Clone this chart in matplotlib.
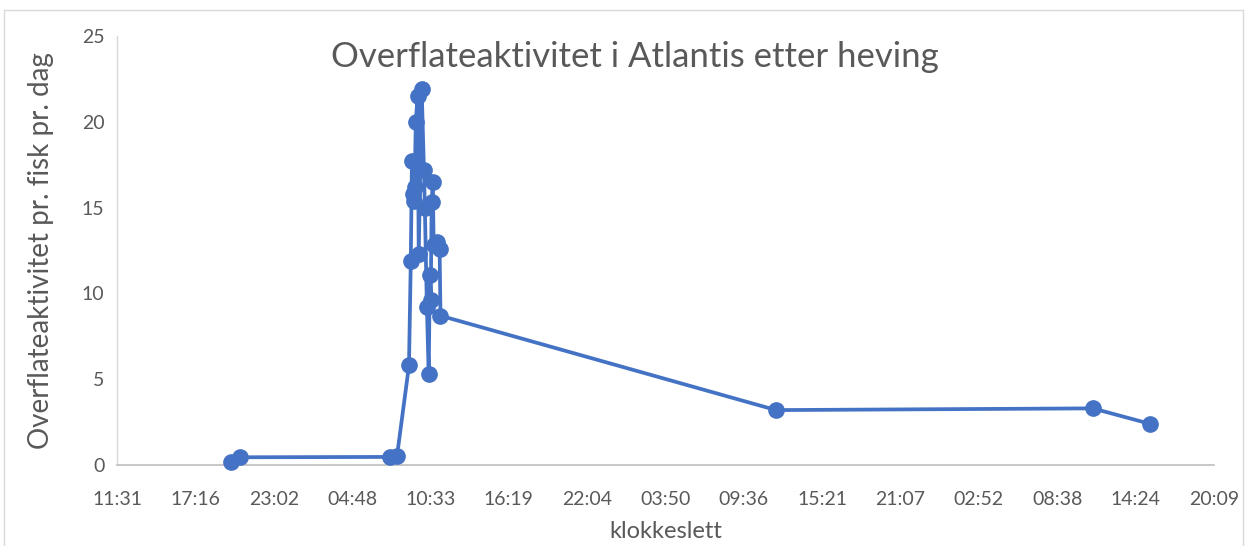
import matplotlib.pyplot as plt
import matplotlib.ticker as ticker
import pandas as pd
from matplotlib.patches import Rectangle

plt.rcParams['font.family'] = ['Lato', 'DejaVu Sans']

# tidspunkt (dag + klokkeslett) og overflateaktivitet pr. fisk pr. dag
tider = ["0 days 19:54:00", "0 days 20:34:00", "1 days 07:35:00", "1 days 08:06:00",
         "1 days 08:59:00", "1 days 09:07:00", "1 days 09:12:00", "1 days 09:16:00",
         "1 days 09:20:00", "1 days 09:24:00", "1 days 09:29:00", "1 days 09:37:00",
         "1 days 09:42:00", "1 days 09:55:00", "1 days 10:05:00", "1 days 10:09:00",
         "1 days 10:18:00", "1 days 10:26:00", "1 days 10:31:00", "1 days 10:35:00",
         "1 days 10:39:00", "1 days 10:44:00", "1 days 10:48:00", "1 days 11:01:00",
         "1 days 11:14:00", "1 days 11:18:00", "2 days 11:58:00", "3 days 11:15:00",
         "3 days 15:27:00"]
aktivitet = [0.2, 0.45, 0.47, 0.5,
             5.8, 11.9, 17.7, 15.8,
             15.4, 16.2, 20.0, 21.5,
             12.3, 21.9, 17.2, 15.0,
             9.2, 5.3, 11.1, 9.6,
             15.3, 16.5, 12.8, 13.0,
             12.6, 8.7, 3.2, 3.3,
             2.4]

x_min = 0.48
x_step = 0.24
x_max = x_min + 14 * x_step


def hhmm(v, pos):
    minutter = int(round((v % 1) * 24 * 60 * 60)) // 60
    return f"{minutter // 60:02d}:{minutter % 60:02d}"


x = [pd.Timedelta(t).total_seconds() / 86400 for t in tider]

fig = plt.figure(figsize=(12.48, 5.46), dpi=100)
ax = fig.add_axes([117 / 1248, 1 - 465 / 546, 1097 / 1248, 429 / 546])

ax.plot(x, aktivitet, color="#4472C4", linewidth=2.7, marker="o",
        markersize=11, zorder=3, clip_on=False)

ax.set_xlim(x_min, x_max)
ax.set_ylim(0, 25)
ax.xaxis.set_major_locator(ticker.MultipleLocator(x_step))
ax.xaxis.set_major_formatter(ticker.FuncFormatter(hhmm))
ax.yaxis.set_major_locator(ticker.MultipleLocator(5))

for s in ["top", "right"]:
    ax.spines[s].set_visible(False)
ax.spines["left"].set_color("#D9D9D9")
ax.spines["bottom"].set_color("#BFBFBF")
ax.spines["left"].set_linewidth(1)
ax.spines["bottom"].set_linewidth(1.2)
ax.tick_params(length=0, labelsize=14, colors="#595959", pad=19)
ax.tick_params(axis="y", pad=9)

ax.set_xlabel("klokkeslett", fontsize=17, color="#595959", labelpad=9)
ax.set_ylabel("Overflateaktivitet pr. fisk pr. dag", fontsize=20,
              color="#595959", labelpad=20)
fig.text(635 / 1248, 1 - 57 / 546, "Overflateaktivitet i Atlantis etter heving",
         fontsize=25, color="#595959", ha="center", va="center")

fig.patches.append(Rectangle((4 / 1248, -0.05), 1239 / 1248, 1.05 - 10 / 546,
                             transform=fig.transFigure, fill=False,
                             edgecolor="#D9D9D9", linewidth=1))

fig.savefig("out.png", dpi=100)
